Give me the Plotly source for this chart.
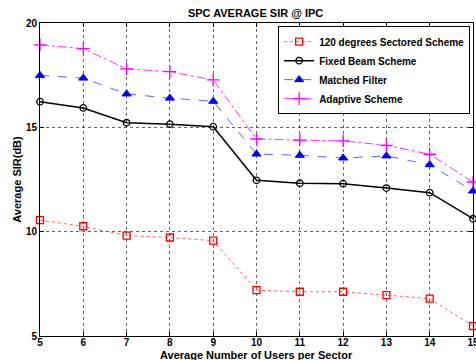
import plotly.graph_objects as go

users = [5, 6, 7, 8, 9, 10, 11, 12, 13, 14, 15]
sectored = [10.55, 10.26, 9.81, 9.72, 9.57, 7.2, 7.12, 7.12, 6.96, 6.79, 5.48]
fixed_beam = [16.23, 15.93, 15.22, 15.15, 15.03, 12.46, 12.32, 12.3, 12.09, 11.87, 10.62]
matched = [17.49, 17.36, 16.6, 16.4, 16.25, 13.72, 13.66, 13.53, 13.63, 13.21, 11.95]
adaptive = [18.95, 18.77, 17.8, 17.67, 17.27, 14.44, 14.39, 14.35, 14.14, 13.71, 12.38]

names = ["120 degrees Sectored Scheme", "Fixed Beam Scheme", "Matched Filter", "Adaptive Scheme"]
x_ticks = list(range(5, 16))
y_ticks = [5, 10, 15, 20]
x_title = "Average Number of Users per Sector"
y_title = "Average SIR(dB)"
chart_title = "SPC AVERAGE SIR @ IPC"

fam = "Liberation Sans, Arial, sans-serif"
fnt = dict(family=fam, size=11, color="black", weight="bold")
tick_fnt = dict(family=fam, size=10, color="black", weight="bold")

fig = go.Figure()
fig.add_trace(go.Scatter(x=users, y=sectored, name=names[0], mode="lines+markers", cliponaxis=False,
                         line=dict(color="rgba(255,60,60,0.8)", width=1, dash="dot"),
                         marker=dict(symbol="square-open", size=7, color="red", line=dict(width=1.3, color="red"))))
fig.add_trace(go.Scatter(x=users, y=fixed_beam, name=names[1], mode="lines+markers", cliponaxis=False,
                         line=dict(color="black", width=1.5),
                         marker=dict(symbol="circle-open", size=6.5, color="black", line=dict(width=1.3, color="black"))))
fig.add_trace(go.Scatter(x=users, y=matched, name=names[2], mode="lines+markers", cliponaxis=False,
                         line=dict(color="rgba(60,60,255,0.8)", width=1, dash="dash"),
                         marker=dict(symbol="triangle-up", size=8, color="blue", line=dict(width=1, color="blue"))))
fig.add_trace(go.Scatter(x=users, y=adaptive, name=names[3], mode="lines+markers", cliponaxis=False,
                         line=dict(color="rgba(255,0,255,0.8)", width=1, dash="dashdot"),
                         marker=dict(symbol="cross-thin-open", size=9, color="magenta", line=dict(width=1.3, color="magenta"))))

axis_common = dict(showline=True, linecolor="black", linewidth=1, mirror="ticks",
                   ticks="inside", ticklen=4, tickcolor="black",
                   showgrid=True, gridcolor="rgba(0,0,0,0.6)", griddash="dot", gridwidth=1,
                   zeroline=False, tickfont=tick_fnt, automargin=False, ticklabeloverflow="allow")

fig.update_layout(
    width=476, height=360,
    margin=dict(l=40, r=3, t=23, b=24, autoexpand=False),
    paper_bgcolor="white", plot_bgcolor="white",
    title=dict(text=chart_title, x=0.537, xanchor="center", y=0.975, yanchor="top",
               font=dict(family=fam, size=11, color="black", weight="bold")),
    xaxis=dict(range=[5, 15], tickvals=x_ticks, ticklabelstandoff=-3, **axis_common),
    yaxis=dict(range=[5, 20], tickvals=y_ticks,
               title=dict(text=y_title, font=fnt, standoff=2), **axis_common),
    legend=dict(x=0.55, y=0.99, xanchor="left", yanchor="top", bgcolor="white",
                bordercolor="black", borderwidth=1,
                font=dict(family=fam, size=10, color="black", weight="bold"),
                tracegroupgap=0, itemwidth=30),
    showlegend=True,
)
fig.add_annotation(text=x_title, xref="paper", yref="paper", x=0.5, y=0,
                   xanchor="center", yanchor="bottom", yshift=-26, showarrow=False,
                   font=fnt, borderpad=0)

fig.write_html("out.html",
               config={"displayModeBar": False},
               post_script="document.body.style.margin='0';document.body.style.overflow='hidden';")
